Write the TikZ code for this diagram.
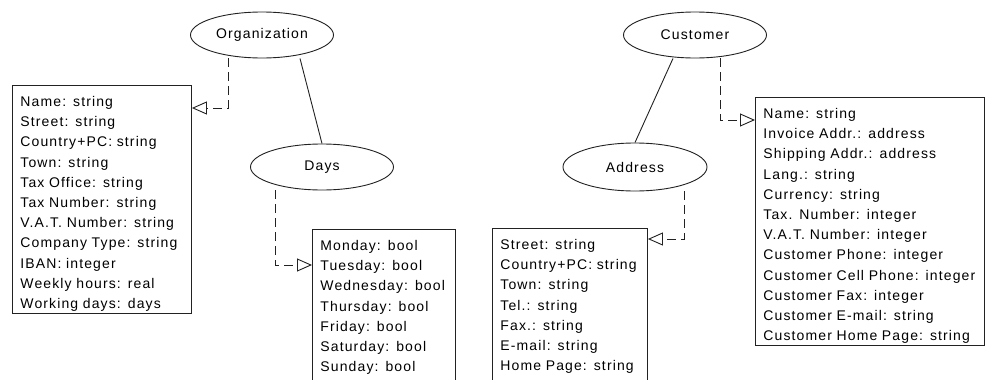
\documentclass[tikz,border=0pt]{standalone}
\usepackage{fontspec}
\setmainfont{Liberation Sans}[LetterSpace=8]
\usetikzlibrary{arrows.meta,shapes.geometric}
\definecolor{umlline}{HTML}{222222}
\newcommand{\umlfont}{\fontsize{14}{20.2}\selectfont}
\tikzset{
  classnode/.style={draw=umlline, ellipse, line width=0.9pt, minimum width=143pt,
    minimum height=46pt, inner sep=0pt, font=\umlfont},
  attrbox/.style={draw=umlline, line width=0.9pt, anchor=north west, align=left,
    inner xsep=8pt, inner ysep=2pt, text height=19pt, font=\umlfont},
  dep/.style={-{Triangle[open, length=15pt, width=13pt]}, line width=0.9pt,
    draw=umlline, dash pattern=on 9pt off 5pt},
  assoc/.style={line width=0.9pt, draw=umlline}
}
\begin{document}
\begin{tikzpicture}[x=1pt, y=-1pt]
  \path[fill=white, use as bounding box] (0,0) rectangle (986,380);
  % entities
  \node[classnode] (org) at (262,35) {Organization};
  \node[classnode] (days) at (322,167) {Days};
  \node[classnode] (cust) at (695,35) {Customer};
  \node[classnode, minimum width=144pt, minimum height=48pt] (addr) at (635,167) {Address};
  % attribute lists
  \node[attrbox, text width=163pt] (orgattr) at (12,85) {Name: string\\Street: string\\Country+PC: string\\Town: string\\Tax Office: string\\Tax Number: string\\V.A.T. Number: string\\Company Type: string\\IBAN: integer\\Weekly hours: real\\Working days: days};
  \node[attrbox, text width=127pt, text depth=132pt] (daysattr) at (312,229) {Monday: bool\\Tuesday: bool\\Wednesday: bool\\Thursday: bool\\Friday: bool\\Saturday: bool\\Sunday: bool};
  \node[attrbox, text width=139pt, text depth=132pt] (addrattr) at (492,228) {Street: string\\Country+PC: string\\Town: string\\Tel.: string\\Fax.: string\\E-mail: string\\Home Page: string};
  \node[attrbox, text width=213pt] (custattr) at (755,97) {Name: string\\Invoice Addr.: address\\Shipping Addr.: address\\Lang.: string\\Currency: string\\Tax. Number: integer\\V.A.T. Number: integer\\Customer Phone: integer\\Customer Cell Phone: integer\\Customer Fax: integer\\Customer E-mail: string\\Customer Home Page: string};
  % links
  \draw[assoc] ([xshift=38pt]org.south) -- (days.north);
  \draw[assoc] ([xshift=-22pt]cust.south) -- (addr.north);
  \draw[dep] ([xshift=-34pt]org.south) |- ([yshift=-23pt]orgattr.north east);
  \draw[dep] ([xshift=-47pt]days.south) |- ([yshift=-36pt]daysattr.north west);
  \draw[dep] ([xshift=25pt]cust.south) |- ([yshift=-23pt]custattr.north west);
  \draw[dep] ([xshift=49pt]addr.south) |- ([yshift=-11pt]addrattr.north east);
\end{tikzpicture}
\end{document}
